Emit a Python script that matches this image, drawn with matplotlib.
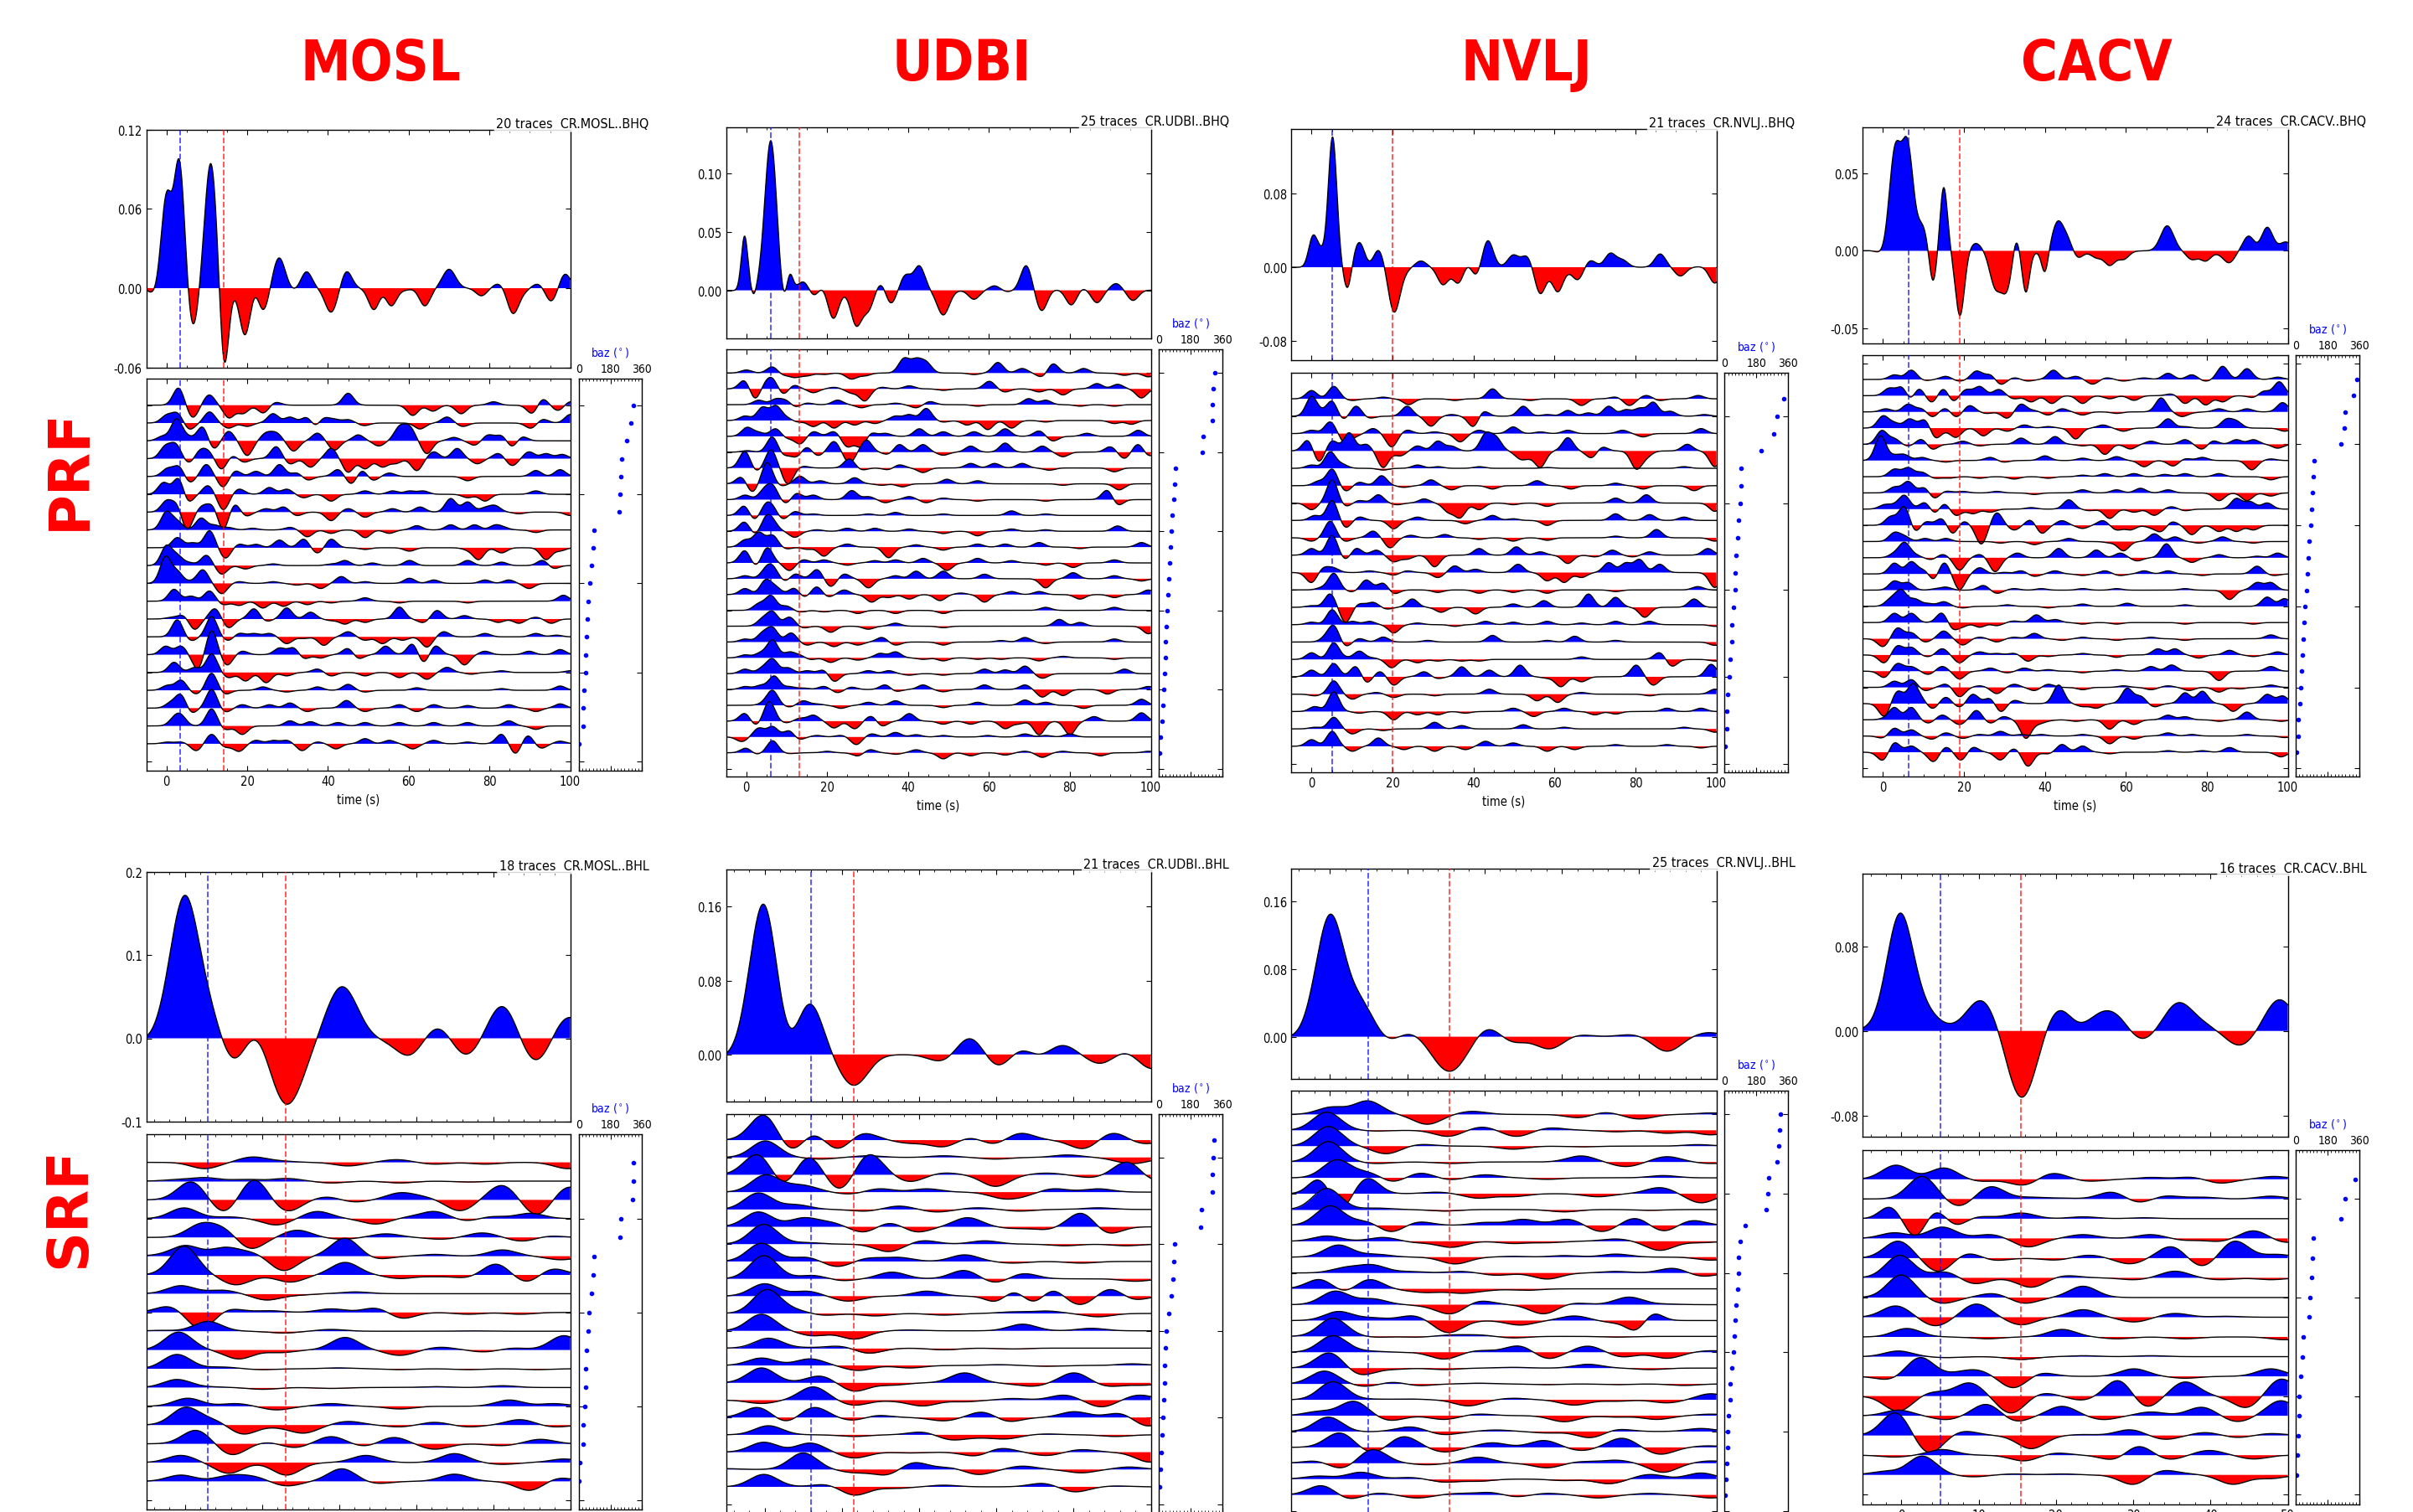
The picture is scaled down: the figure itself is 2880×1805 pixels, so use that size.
import numpy as np
import matplotlib
matplotlib.use("Agg")
import matplotlib.pyplot as plt
from matplotlib.ticker import (MultipleLocator, FixedLocator,
                               FormatStrFormatter, NullFormatter)

# Receiver-function overview: stack + individual traces + back-azimuth, per
# station (columns) and phase (rows).  Each waveform is given as a short list
# of (time s, amplitude[, width s]) pulses.

W, H, DPI = 2880, 1806, 100

STATIONS = ["MOSL", "UDBI", "NVLJ", "CACV"]
KINDS = ["PRF", "SRF"]
CHANNEL = {"PRF": "BHQ", "SRF": "BHL"}

# ---------------------------------------------------------------- PRF data
MOSL_PRF_STACK = [(-3, 0), (0.2, .078), (1.4, .073), (3.1, .103), (6.5, -.028), (11.0, .099, 1.5),
                  (14.3, -.058, 1.1), (17.1, -.010), (19.5, -.037), (22.0, -.007), (23.9, -.017),
                  (27.9, .024, 1.5), (31.5, .0), (34.7, .013), (40.8, -.019, 1.5), (44.6, .013),
                  (51.4, -.017), (53.9, -.007), (55.6, -.014), (59.0, -.002), (64.0, -.014),
                  (70.0, .015, 1.6), (78.0, -.006), (82.2, .003), (85.8, -.020), (88.0, -.008),
                  (92.0, .003), (95.3, -.010), (98.7, .011)]
UDBI_PRF_STACK = [(-3, 0), (-0.4, .0485, .8), (1.9, -.003, .6), (6.1, .134, 1.5), (9.2, .0), (10.7, .014, .8),
                  (12.6, .005), (14.4, .007), (16.8, -.004), (18.8, .0), (21.5, -.025), (24.2, -.006),
                  (27.2, -.032), (30.2, -.019), (33.5, .004), (35.6, -.011), (39.4, .014),
                  (42.8, .022), (48.7, -.022, 1.5), (56.3, -.008), (61.4, .004), (64.4, -.001),
                  (69.2, .022), (73.0, -.018), (76.6, .0), (80.4, -.013), (82.9, .0),
                  (86.7, -.011), (91.4, .006), (95.6, -.009), (99.4, .0)]
NVLJ_PRF_STACK = [(-3, 0), (0.2, .035, 1.0), (1.9, .026), (5.2, .148, 1.05), (8.9, -.023, .9), (11.8, .028),
                  (14.6, .007), (16.5, .019), (20.4, -.051, 1.4), (22.8, -.015), (27.0, .007),
                  (32.5, -.020), (34.6, -.013), (36.3, -.018), (38.8, .0), (40.5, -.008),
                  (43.5, .030), (49.8, .014), (53.2, .012), (56.5, -.030), (60.8, -.028),
                  (63.7, -.008), (65.8, -.014), (68.8, .007), (73.8, .016), (76.8, .009),
                  (81.0, .0), (86.1, .015), (91.1, -.010), (96.2, .0), (99.6, -.018)]
CACV_PRF_STACK = [(-3, 0), (-0.2, .003), (2.8, .070), (4.5, .072), (6.2, .074), (9.7, .018), (12.3, -.020, .9),
                  (15.0, .043, .9), (19.0, -.044, 1.1), (22.9, .005), (27.7, -.026), (30.5, -.028),
                  (32.8, .005, .8), (35.3, -.028, .9), (38.1, -.002), (40.0, -.014, .8),
                  (43.1, .020), (45.5, .011), (48.0, -.004), (52.7, -.005), (56.0, -.010),
                  (59.4, -.006), (64.5, .0), (70.2, .017, 1.6), (76.3, -.006), (79.7, -.007),
                  (83.5, -.004), (85.6, -.008), (90.3, .010), (94.9, .016), (97.5, .005), (99.6, .006)]

MOSL_PRF_TRACES = [
    [(3, 1.0), (6.5, -.7), (10.6, .6), (15.5, -.75), (19, -.5), (24, -.45), (27, .15), (45, .7), (61, -.6), (66, -.35), (73, -.5), (81, .2), (90.7, -.45), (93, .3), (97, -.3), (100, .2)],
    [(0, .5), (2.7, .6), (5.7, -.35), (10.7, .65), (15.4, -.3), (20, -.2), (26.4, .55), (30.6, .35), (34.9, .3), (37, -.1), (38.7, .25), (41.6, .25), (45, .2), (49, -.15), (62.8, -.35), (69.5, .35), (73.4, -.2), (90.3, -.3), (93.2, .2), (100, .5)],
    [(-1, .3), (2.5, 1.3), (5.2, .4), (9, .8), (11.6, -.4), (15.4, .55), (20, -.86), (24.7, .5), (27.2, .5), (31.5, -.6), (37.4, .45), (41.6, -.55), (47.5, .35), (52.6, -.3), (57.7, .9), (60.2, .9), (64.5, -.75), (71.2, .2), (76.3, -.25), (79.7, .35), (83, .3), (85.6, -.3), (88, .2)],
    [(-0.3, .8), (2.3, .9), (5.7, -.2), (8.2, .5), (10.3, .5), (13.7, -.6), (16.2, .1), (19.2, -.2), (27.2, .7), (30.6, -.3), (35.7, -.5), (40.8, .6), (45, -.8), (49.2, -.6), (53.5, -.5), (56.8, -.3), (62, -.7), (66.2, .4), (72, .6), (77, -.3), (82.2, .3), (85.6, -.4), (89.8, .4), (94, .3), (98, .25)],
    [(0.2, .5), (3.1, .6), (5.7, -.3), (9.9, .7), (14.1, -.6), (17, .3), (22.2, .3), (28, .7), (32.3, .2), (35, -.2), (42.5, .4), (45.9, -.4), (48.4, .3), (51, -.2), (55.2, .2), (74.6, -.25), (91.5, .35), (97.5, .4)],
    [(-0.7, .7), (3.1, .9), (5.2, -.3), (10.3, .5), (14.1, -.9), (18, .3), (25.5, .4), (29.8, .3), (34, -.2), (40.8, -.4), (49.2, .2), (56, .2), (60.2, .2), (63.6, .2), (74.6, -.2), (78.9, -.4), (91.5, .2)],
    [(0, .7), (2.7, .4), (5, -1.0), (9, .4), (11.6, .3), (14, -1.0), (16.9, .4), (19.6, -.2), (24.7, .2), (29, .3), (32.3, -.2), (40.8, -.5), (45, .2), (49.2, -.3), (56, .2), (62.8, .3), (70.4, .8), (74.6, .6), (78.9, .3), (81.4, .4), (87.3, -.1), (100, -.2)],
    [(0, 1.1), (2.7, .6), (8.6, .7), (12, .3), (15.4, .15), (21.3, .1), (30.6, .15), (34.9, -.4), (40.8, -.2), (49.2, -.45), (55.2, -.2), (62, .25), (70.4, .3), (76.3, .3), (81.4, .3), (83.5, .2), (91.5, -.15)],
    [(2.7, .6), (6.5, .3), (10.7, 1.0), (14.6, -.6), (18, .2), (22.2, .2), (28, .45), (34, .5), (37.4, -.3), (40.8, .5), (49.2, -.1), (60.2, -.2), (74.6, -.2), (77.3, -.7), (83, -.3), (94, -.7), (97.5, -.2)],
    [(0, 1.2), (2.7, .7), (5.7, .2), (9.9, .6), (13.7, -.5), (19.6, -.2), (26.4, .1), (40.8, .1), (44.2, .3), (51, .15), (60.2, .3), (74.6, .3), (83, .2), (93.2, .3), (95.8, -.15)],
    [(-0.2, 1.6), (2.7, .8), (6.1, .2), (9, .8), (13.7, -.6), (18, .1), (26.4, .1), (32.3, -.1), (38.2, -.3), (43.3, .4), (49.2, .1), (60.2, .3), (66.2, .2), (78.9, .2), (84.8, .2), (89.8, -.3)],
    [(1.9, .7), (6.1, .3), (10.7, .6), (14.1, -.2), (18, -.25), (23.9, -.4), (29, -.3), (34.9, -.2), (40.8, -.1), (49.2, .2), (57.7, -.1), (74.6, -.1), (98.3, .35)],
    [(1, .1), (4, .2), (7, -.6), (12, .6), (15.4, -.5), (21.7, .6), (24.7, -.1), (29.8, .65), (35.7, .4), (40.8, -.1), (44.2, -.3), (49.2, -.2), (57.7, .7), (63.6, -.2), (67, .5), (73.8, .2), (82.2, -.2), (87.3, -.25), (91.5, .1), (95.3, -.25)],
    [(2.7, 1.0), (6.1, -.2), (11.2, 1.2), (15.4, -.2), (18, .2), (21.7, .2), (25.5, .2), (29.8, -.4), (34, -.1), (39, -.5), (45, .3), (49.2, -.2), (53.5, -.4), (58.5, -.2), (64.5, -.6), (68.7, .3), (78.9, .2), (91.5, .2), (96.6, .1)],
    [(-0.2, .5), (3.6, .5), (7.8, -.8), (11.2, 1.4), (15, -.6), (18.8, .2), (28, .4), (31.5, .4), (34, -.2), (38.2, -.2), (45, .35), (47.5, -.2), (54.3, .5), (61, .6), (63.6, -.4), (66.6, .5), (73.8, -.6), (78.9, .2), (89.8, .2), (97.5, .3)],
    [(1.9, .6), (7, .3), (11.2, 1.1), (15.4, -.3), (19.6, -.5), (24.7, -.6), (29.8, -.2), (37.4, .2), (40.8, -.2), (49.2, -.2), (57.7, -.3), (64.5, -.4), (69.5, .3), (75.5, -.1), (83, .1), (100, .1)],
    [(0.2, .3), (3.6, .6), (7.4, -.2), (11.2, 1.0), (14.6, -.2), (23.9, .2), (29.8, -.1), (37.4, .2), (45, .35), (49.2, -.1), (62, .15), (83, .1), (97.5, .25)],
    [(1, .4), (3.6, .8), (6.1, -.2), (11.2, 1.1), (14.6, -.2), (18.8, .2), (25.5, .2), (30.6, .3), (34.9, -.2), (44.6, .45), (49.2, -.2), (57.7, .2), (62, -.2), (66.2, .2), (74.6, .15), (84.8, .2), (91.5, -.2), (97.5, .25)],
    [(1.9, .6), (3.6, .7), (11.2, 1.0), (14.6, -.2), (18.8, -.5), (30.6, .3), (35.7, .25), (42.5, .2), (49.2, .2), (57.7, .2), (66.2, .2), (74.6, .2), (84.8, .3), (91.5, -.2)],
    [(0.2, .1), (3.6, .1), (7.4, -.4), (11.2, .55), (14.6, -.2), (18, -.45), (22.2, .2), (26.4, .2), (29.8, .2), (33.6, -.4), (37.4, .1), (42, -.3), (49.2, .3), (55.2, .2), (61, -.3), (66.2, .2), (74.6, .1), (83, .55), (86.5, -.55), (89.4, .45), (92.8, -.25), (97.5, .15)],
]
UDBI_PRF_TRACES = [
    [(0, .2), (6.5, .4), (9, -.1), (12, -.3), (15, -.2), (19.2, -.1), (26, -.4), (29.3, -.2), (39, 1.0), (42, 1.0), (44.5, .8), (56.3, -.1), (62.2, .7), (68.2, .3), (73.2, -.2), (75.8, .6), (83.4, .3), (93.5, -.15), (99.4, -.25)],
    [(-0.3, .5), (2.1, -.6), (4.8, .5), (6.5, .7), (9.2, -.3), (11.6, .2), (16.6, -.25), (21.7, .1), (26, -.3), (29.3, -.8), (33.5, .1), (40.3, .2), (48.7, -.1), (60.1, .5), (63.9, -.2), (72.4, -.2), (78.3, -.4), (86.7, .35), (91.8, .3), (97.7, -.6)],
    [(3.1, .3), (7.3, .4), (9.9, .3), (12, -.1), (15, .1), (22.6, .3), (28.5, -.2), (36.9, .1), (42, -.2), (45.4, .2), (57.2, -.1), (69.8, .4), (74, .3), (82.5, -.1), (91, -.1)],
    [(-0.3, .3), (4, .9), (7.3, 1.0), (9.9, .3), (12.8, -.1), (16.6, -.4), (21.7, -.5), (26.8, -.3), (31.8, -.2), (36.9, .3), (40.3, .4), (44.5, .8), (48.7, -.1), (54.6, -.3), (59.7, -.6), (65.6, -.5), (74, -.1), (91, -.2), (95.2, -.25)],
    [(0.2, .6), (3.1, .3), (7.3, .5), (9.9, -.1), (13.3, -.5), (16.6, .3), (21.7, .3), (25, -.7), (28.5, -.7), (30.5, .1), (34.4, .2), (42.8, .5), (48.7, .3), (56.3, .3), (64, .5), (72.4, .35), (75.8, -.3), (84.2, .2), (96.9, .4)],
    [(0.2, .1), (6.5, 1.0), (9, -.1), (12.4, -.3), (15, .3), (17.5, -.2), (21.7, .7), (25.5, -.7), (29.7, .8), (35.2, -.1), (37.8, .5), (43.7, .5), (48.7, -.2), (55.5, .4), (64, .6), (73.2, .4), (78.3, -.3), (90, .35), (93.5, -.4), (96.9, .5), (99.4, -.2)],
    [(-0.3, 1.1), (2.3, -.1), (6.1, 1.2), (10.3, -1.05), (14.1, .1), (25.5, .6), (28.5, -.1), (35.2, -.1), (37.8, .2), (43.7, -.3), (55.5, .3), (61.4, .3), (68.2, .3), (74.9, -.15), (91, -.25)],
    [(-1.1, .4), (1.4, -.5), (5.2, 1.4), (8.6, -.1), (13.3, .5), (18.3, .2), (26.8, .4), (33.5, -.1), (38.6, -.2), (49.6, .3), (57.2, .2), (78.3, -.1), (92.2, -.4)],
    [(-0.3, .3), (4.4, .8), (6.5, 1.0), (9.9, -.2), (12.4, .4), (16.6, .3), (26.1, .6), (30.2, .2), (34.4, -.2), (40.3, .2), (44.5, -.2), (48.7, .1), (57.2, -.1), (74, -.1), (89.3, .6), (91.8, -.3)],
    [(-0.4, .6), (1.9, -.2), (4.8, .8), (6.5, .7), (9, -.2), (12, .25), (16.6, .1), (30.2, .1), (36.9, .2), (48.7, .1), (65.6, .3), (74, .1)],
    [(-0.4, .6), (2.3, -.1), (4.8, 1.0), (6.5, .9), (12, -.4), (17.5, .1), (25, .2), (31.8, .2), (40.3, .15), (48.7, -.15), (57.2, -.3), (65.6, .15), (74, .1), (91.8, .35)],
    [(-0.3, .5), (3.1, 1.0), (6.5, .8), (9.9, -.1), (15, -.15), (19.2, -.6), (25, .2), (35.2, -.7), (42, .15), (48.7, -.2), (57.2, .2), (64, .2), (72.4, .3), (82.5, -.1), (97.7, .3)],
    [(-0.3, .8), (2.3, -.1), (5.2, 1.0), (10.7, -.5), (14.1, .2), (19.2, .2), (25, -.15), (31.8, .15), (36.9, .2), (43.7, .3), (49.6, -.5), (57.2, .3), (65.6, .15), (74, -.15), (80.8, -.3), (91, .2)],
    [(-0.3, .2), (4.8, .8), (6.5, .9), (9.9, -.1), (12, .3), (17.5, .6), (20.9, -.5), (24.2, .3), (30.2, -.6), (36.9, .2), (42, .5), (48.7, .5), (58.9, .3), (74, -.6), (80.8, .4), (91, .2), (97.7, -.15)],
    [(-0.3, .4), (4.8, 1.0), (7.3, .6), (12, .4), (14.1, -.1), (17.5, .5), (20, -.1), (24.2, .3), (31, -.5), (35.2, -.2), (40.3, -.3), (47.9, -.4), (53, .1), (58.9, -.5), (65.6, .2), (72.4, .2), (82.5, -.3), (91, -.2), (99.4, .3)],
    [(3.1, .5), (6.1, 1.0), (9.9, .3), (13.3, -.1), (19.2, -.1), (27.6, -.2), (36.9, -.2), (48.7, -.2), (74, .2), (91, .2)],
    [(4, .6), (6.5, 1.0), (10.7, .6), (14.1, -.1), (20.9, -.4), (30.2, -.2), (36.9, .2), (48.7, -.1), (77.4, .45), (82.5, .25), (99.4, -.5)],
    [(-0.3, .2), (4, .7), (6.5, 1.0), (11.1, .6), (15, -.2), (21.7, -.3), (27.6, -.2), (33.5, .3), (36.9, -.2), (48.7, -.2), (63, .1), (68.9, .3), (74, -.1), (91, .2)],
    [(-0.3, .2), (3.5, .4), (6.5, 1.2), (10.7, .4), (13.3, .2), (15.8, -.1), (20.9, -.3), (27.6, -.15), (33.1, .3), (36.9, .4), (43.7, -.1), (48.7, -.2), (57.2, -.1), (63, -.1), (72.4, -.2), (78.3, .1), (91, -.1)],
    [(-0.3, .3), (4, .5), (6.5, 1.0), (10.3, .4), (15, .2), (19.2, .2), (21.7, -.5), (30.2, .2), (35.2, .2), (40.3, -.1), (48.7, -.1), (58.9, .3), (64, .25), (68.9, .5), (73.2, -.3), (93.5, .3)],
    [(-0.3, .2), (3.5, .3), (6.9, .9), (10.7, .2), (14.1, .1), (19.2, .2), (22.6, -.2), (26, .15), (34.4, .3), (36.9, -.1), (43.7, .3), (48.7, -.15), (58.9, .3), (68.9, .3), (73.2, -.5), (78.3, -.4), (89.3, -.3), (99.4, .2)],
    [(4.4, .4), (6.5, 1.0), (10.7, -.1), (14.1, .3), (17.5, .1), (23.4, -.2), (30.2, .2), (36.9, .3), (48.7, -.15), (57.2, .2), (68.9, .35), (74, .2), (83.4, -.2), (97.7, .4)],
    [(-0.3, .5), (2.3, -.2), (5.7, 1.3), (9.9, -.1), (13.3, .2), (16.6, .4), (21.7, -.45), (26.8, -.5), (31, .3), (33.5, -.3), (40.3, .5), (48.7, -.2), (55.5, -.2), (64, -.5), (67.3, -.2), (72.4, -.9), (80, -.9), (86, .3), (97.7, .55)],
    [(-1.1, -.3), (3.1, .6), (6.5, .7), (10.7, .4), (12.8, -.1), (17.5, .1), (23.4, .1), (27.2, -.5), (31, .2), (36.9, .3), (42, .15), (48.7, .1), (59.7, .1), (68.9, .2), (74, .1), (80, .2)],
    [(0, .3), (2.3, -.05), (6.5, .8), (10.7, -.05), (20, .1), (27.6, -.2), (30.6, .2), (36.9, -.1), (42, .2), (48.7, -.4), (55.5, -.2), (64, -.15), (68.9, .1), (73.2, -.3), (78.3, .1), (87.6, -.2), (99.4, .1)],
]
NVLJ_PRF_TRACES = [
    [(0, .5), (5.5, .75), (10.1, -.1), (17.7, .1), (24, -.35), (35.4, -.1), (44.7, .6), (54, -.1), (66.7, -.4), (75.1, .1), (78.5, -.4), (82.7, .2), (86, -.1), (95.5, .2)],
    [(0, 1.2), (2.5, .5), (5.1, .9), (7.6, -.1), (11, .6), (14.3, -.1), (23.6, .6), (29.5, -.6), (34.6, .1), (40.1, -.6), (42.2, .2), (52.3, .6), (58.2, .1), (63.3, .35), (68.4, .2), (73.4, .6), (77.6, .4), (81, .5), (84.4, .85), (88.6, .3), (97, .1)],
    [(0, .2), (4.6, .7), (8.4, -.6), (11, -.2), (15.2, .3), (19.8, -.8), (23.6, .2), (30.4, .1), (36.7, -.5), (41.4, .2), (49.8, .4), (56.5, .1), (63.3, .2), (76.8, .2), (81.9, -.2), (96.2, .3)],
    [(-0.8, .6), (1.7, -.6), (5.1, .6), (9.3, 1.1), (13.5, .4), (17.7, -1.0), (21.9, -.3), (26.2, .3), (31.2, .6), (34.6, .3), (43, 1.1), (45.6, .9), (51.5, -.5), (53.6, -.5), (56.5, -1.0), (63.3, .8), (69.2, -.4), (71.7, .2), (80.2, -1.1), (82.7, -.5), (92.8, .4), (99.6, -.95)],
    [(0, .2), (4.6, 1.0), (7.6, .3), (17.7, -.1), (26.2, .2), (31.2, .1), (41.4, .1), (58.2, .05), (92, .1)],
    [(1.7, .3), (5.1, 1.0), (8.4, -.3), (11.8, .2), (17.3, .6), (22.8, -.1), (29.5, .35), (34.6, -.25), (44.7, -.2), (55.7, .3), (64.1, -.2), (75.1, .15), (81.9, -.2), (94.5, -.3)],
    [(0, -.4), (5.1, 1.4), (8.4, -.15), (11.8, .15), (16.5, .5), (21.1, -.1), (27.8, .25), (33.8, -.6), (36.7, -.9), (41.4, -.4), (49.8, -.1), (58.2, -.2), (75.1, .3), (82.7, .5), (99.6, -.5)],
    [(0.8, .3), (5.1, 1.2), (8.4, -.4), (11.8, .2), (20.3, -.5), (26.2, .2), (38, -.2), (44.7, .3), (49.8, .1), (58.2, -.3), (75.1, .4), (83.5, .35), (92, .2)],
    [(0, -.2), (4.6, 1.0), (8.4, -.2), (15.2, .4), (19.4, -.6), (24.5, .15), (32.9, .2), (41.4, -.1), (49.8, -.2), (58.2, -.15), (75.1, .1), (85.2, .5), (99.6, -.2)],
    [(0, .4), (5.1, 1.2), (8.4, -.2), (11, .4), (16, .3), (20.3, -.4), (23.6, -.25), (30.4, -.7), (41.4, .4), (50.6, .5), (56.5, .2), (63.3, -.5), (70, -.1), (74.3, .3), (79.3, -.1), (83.5, .2), (97.9, .4)],
    [(0, -.6), (3, .3), (5.5, .3), (14.3, .1), (20.3, -.15), (23.6, .1), (31.2, -.3), (35.4, .4), (40.5, .2), (51, .5), (58.2, -.5), (62.4, -.6), (66.7, -.3), (73.4, .6), (77.6, .6), (81, .8), (86, .5), (99.6, -.9)],
    [(2.5, .2), (5.5, 1.0), (10.1, -.1), (13.5, .6), (17.7, .4), (20.3, -.2), (31.2, -.15), (41.4, -.2), (49.8, -.15), (58.2, -.2), (75.1, -.1), (95.4, .2)],
    [(0, .1), (4.6, .8), (8.4, -.9), (11.8, .2), (15.2, .3), (18.6, -.1), (24.9, .5), (32, -.3), (40.5, -.4), (49.8, .2), (57.4, .4), (68.4, .8), (75.1, .6), (82.3, -.6), (94.5, .5)],
    [(0, .15), (5.1, .9), (10.1, .2), (14.3, .2), (20.3, -.5), (26.2, .1), (35.4, -.1), (43, .2), (49.8, .15), (58.2, .2), (66.7, .1), (75.1, .2), (83.5, .2), (99.6, -.1)],
    [(3.4, .5), (5.5, 1.0), (8.4, -.2), (11.8, .2), (17.7, .3), (28.7, .1), (44.7, .4), (58.2, .1), (65, .35), (75.1, .1), (99.6, -.2)],
    [(0, .4), (5.5, 1.0), (8.4, .2), (11.8, .5), (15.2, .1), (19.8, -.5), (26.2, -.2), (31.2, -.1), (37.1, -.1), (41.4, -.1), (66.7, .15), (86, .4), (89, -.4), (99.6, -.1)],
    [(0, .4), (5.5, .8), (11, .6), (13.5, -.3), (16.9, .3), (20.3, -.5), (27.8, .3), (31.2, -.1), (37.1, .6), (43.9, .4), (51.5, .7), (58.2, -.1), (61.6, -.6), (66.7, -.3), (80.2, .7), (84.4, -.5), (98.7, .75)],
    [(0.8, -.1), (5.5, .8), (10.1, -.3), (16, .1), (20.3, -.2), (30.4, -.1), (43.9, .3), (55.7, -.4), (60.8, -.5), (66.7, .1), (83.5, -.1), (99.6, .3)],
    [(0.8, .3), (5.5, 1.2), (11.8, -.1), (20.3, -.5), (26.2, -.2), (31.2, -.2), (38, -.1), (49.8, .2), (54.9, -.3), (62.4, .2), (70, -.2), (75.1, -.15), (87.8, .2), (96.2, .2)],
    [(0.8, .1), (5.5, .7), (10.1, -.3), (17.7, -.1), (30.4, .4), (37.1, .2), (52.3, .25), (62.4, .1), (92, .1), (99.6, -.2)],
    [(0, .4), (5.1, .9), (10.1, -.3), (16.5, .5), (22.8, -.2), (30.4, -.3), (38, -.2), (43, .3), (49.8, .2), (58.2, -.3), (65, -.2), (75.1, .1), (87.8, .1), (96.2, -.1)],
]
CACV_PRF_TRACES = [
    [(2.8, .3), (7, .6), (10.4, -.05), (15.5, .2), (18.9, -.1), (23.1, .55), (26.5, .3), (29, -.3), (32.4, .1), (35.8, -.1), (42.1, .6), (47.6, .2), (51.8, -.3), (55.2, .1), (59.4, -.1), (64.5, .1), (70.4, .4), (76.3, .3), (79.7, -.1), (83.9, .85), (89.9, .7), (97.5, .15)],
    [(1.5, .5), (4.9, .5), (6.6, -.1), (8.7, .4), (12.1, -.4), (15, .4), (17.2, -.3), (20.5, .4), (23.9, .6), (28.6, .4), (32.4, -.2), (36.6, -.4), (41.7, -.5), (49.3, -.5), (56, -.2), (62, -.3), (71.3, .1), (74.6, -.5), (79.7, -.6), (83.9, -.4), (91.5, -.1), (94.1, .3), (97.9, .9)],
    [(0.7, .2), (6.2, .5), (9.6, .2), (12.1, -.3), (15.5, .2), (18, -.3), (21.4, .4), (25.6, -.1), (30.7, -.4), (34.1, .5), (37.4, .1), (40.8, -.2), (44.2, .2), (49.3, -.2), (57.7, -.1), (68.7, .9), (73.8, -.3), (76.3, -.1), (83, .2), (89.9, .2), (98.7, .6)],
    [(0, .8), (2.8, .4), (6.6, .6), (10.4, .5), (12.9, -.6), (15.5, -.3), (18, -.6), (24.8, -.5), (30.7, -.2), (34.9, .2), (40.8, .1), (47.6, -.7), (54.3, .2), (59.4, -.2), (70.4, .6), (74.6, .1), (84.8, .6), (87.3, .5), (99.2, -.2)],
    [(-0.3, .9), (2.8, .4), (6.2, -.1), (9.6, .3), (12.1, -.3), (19.7, .2), (23.9, -.1), (34.1, .4), (42.5, .5), (49.3, -.1), (54.8, -.65), (61.1, -.3), (66.2, .2), (74.6, .3), (78.9, -.3), (81.4, .2), (87.3, .3), (91.5, .3), (97.5, -.25)],
    [(-0.6, 1.6), (2.8, .4), (5.3, .4), (9.6, .2), (15.5, -.1), (26.5, .2), (29.8, -.1), (40, .3), (49.3, .15), (57.7, .25), (64.5, -.4), (71.7, -.35), (74.6, .1), (78.9, .2), (91.1, -.6), (95.8, .1)],
    [(2.8, .5), (6.2, .6), (9.6, .3), (12.9, -.1), (16.3, -.1), (23.9, -.1), (32.4, -.15), (40.8, -.1), (49.3, .1), (54.8, .2), (62, .2), (69.6, .15), (74.6, .2), (83, .2), (95.8, -.2)],
    [(2.8, .4), (6.2, .75), (10.4, .3), (12.5, -.3), (15.5, .1), (19.7, .1), (28.1, .1), (37.4, -.1), (49.3, .2), (57.7, .2), (63.6, .3), (70.4, .2), (83, -.5), (89.9, -.5), (95.8, -.2)],
    [(0.3, .3), (2.8, .4), (5.3, .9), (10.4, .4), (12.9, -.2), (15, .3), (18, -.4), (22.2, -.3), (26.5, -.2), (36.6, .1), (45.9, .6), (51, -.1), (56, -.6), (62, -.2), (67, -.4), (71.3, .15), (74.6, -.1), (87.3, .7), (90.7, .5), (94.9, .4)],
    [(1.9, .6), (5.3, 1.2), (7.9, -.3), (10.4, .2), (14.6, .4), (17.2, -.5), (19.7, .2), (24.3, -1.2), (28.1, .8), (32.4, -.3), (36.6, .3), (39.1, -.5), (44.2, .3), (49.3, -.2), (54.3, .3), (57.7, -.3), (61.1, -.3), (66.2, -.2), (68.7, -.4), (71.3, .2), (76.3, -.6), (83, -.4), (87.3, -.4), (91.5, -.3)],
    [(2.8, .6), (5.3, .4), (10.4, .2), (15.5, .2), (29, -.1), (37.4, -.2), (45.9, .2), (56, -.1), (59.4, -.6), (67, .5), (72.1, .3), (78, -.1), (83.9, .3), (91.5, -.1)],
    [(2.8, .4), (5.3, 1.0), (7.9, .3), (12.1, -.1), (14.6, .2), (18.9, -.8), (23.9, .2), (27.7, -.9), (33.2, .3), (43.4, .6), (52.7, .5), (58.6, .3), (62.8, -.2), (70, .9), (76.3, -.3), (83, .2), (92.4, .1), (97.5, .3)],
    [(2.8, .7), (7, .8), (10.4, .2), (12.5, -.3), (15, .7), (18.9, -1.0), (23.9, .4), (29.8, .1), (34.1, .2), (37.4, -.15), (42.5, .2), (49.3, -.1), (54.8, .2), (58.6, -.1), (64.5, .2), (70.4, .2), (78.9, -.1), (92.4, .5), (96.6, -.1)],
    [(2.8, .6), (6.2, .5), (12.9, .1), (15.5, .2), (24.8, .3), (28.1, -.2), (32.4, .1), (39.1, .1), (49.3, .1), (57.7, .1), (74.6, .1), (85.6, -.6), (92.4, .5), (95.8, .5)],
    [(1.9, .6), (4.5, 1.1), (7.9, .5), (11.2, .2), (15, .3), (19.7, -.1), (30.7, .1), (40.8, -.1), (49.3, .15), (60.3, .2), (74.6, .1), (94.9, .6), (99.2, .5)],
    [(2.8, .6), (7, .6), (14.6, .6), (17.2, -.4), (19.7, -.3), (23.9, -.3), (28.1, -.2), (32.4, .1), (37.9, .5), (42.5, .2), (49.3, -.1), (57.7, -.1), (74.6, -.1), (91.5, -.1)],
    [(0, -.5), (3.6, .7), (7, .4), (10.4, -.2), (15, .5), (19.7, -.4), (23.9, .1), (28.1, -.2), (32.4, .1), (37.4, .35), (44.2, -.1), (49.3, .1), (57.7, -.1), (66.2, .1), (74.6, -.1), (95.8, .25)],
    [(0.3, -.5), (3.6, .6), (7, .5), (11.2, -.1), (14.6, .4), (18.9, -.5), (23.9, .2), (28.1, .1), (32.4, .1), (35.8, -.4), (40.8, -.1), (49.3, .1), (57.7, -.15), (67.9, .4), (72.1, .4), (78, -.2), (85.6, .3), (91.5, -.1), (97.5, .2)],
    [(0.3, -.4), (3.6, .5), (7, .3), (11.2, -.2), (14.6, .3), (18.9, -.5), (26.5, .2), (30.7, -.1), (34.9, .2), (40.8, .1), (49.3, -.1), (57.7, .1), (66.2, .3), (71.3, .4), (83, -.6), (95.8, .3)],
    [(2.8, .4), (7, .5), (10.4, -.2), (15.5, .2), (18.9, -.6), (23.9, .1), (28.1, -.4), (32.4, .2), (37.4, -.2), (40.8, .2), (49.3, -.15), (59.4, .1), (66.2, -.15), (70.4, .1), (75.6, -.2), (83, -.3), (88.2, -.1), (95.8, .15)],
    [(0.3, -.8), (3.6, .8), (7.4, 1.3), (10, .3), (12.1, -.3), (15.5, .4), (18.9, -.2), (22.2, .6), (26.5, .3), (29, -.5), (32.4, .2), (43.4, 1.2), (49.3, -.2), (52.7, -.3), (60.3, 1.0), (63.6, .5), (67, -.2), (74.6, .7), (78.9, .8), (86.5, -.5), (94.9, .6), (98.7, .5)],
    [(0.3, .2), (2.8, .8), (7, .8), (11.2, -.2), (14.6, .3), (18.9, -.3), (23.1, .6), (26.5, -.2), (29.8, .2), (35.3, -1.2), (38.5, -.3), (40.8, -.1), (47.6, -.1), (56, -.6), (62, -.3), (70.4, .3), (74.6, .2), (83, -.1), (89.9, .5), (98.3, -.1)],
    [(0, -.1), (2.8, .5), (7, .4), (12.1, -.2), (15.5, .2), (19.7, -.15), (23.9, .1), (29, .3), (34.1, .1), (39.1, .1), (49.3, .1), (56, -.5), (62, -.2), (70.4, .2), (76.3, .1), (89.9, .1), (99.2, -.1)],
    [(0, -.5), (2.8, .6), (7, .4), (12.5, -.6), (15.5, .3), (19.3, -.5), (22.2, .3), (29, -.5), (32.4, .2), (35.8, -.9), (40.8, -.1), (44.2, .5), (49.3, .4), (56, -.1), (70.4, .1), (78.9, .1), (85.6, .3), (98.3, -.3)],
]

# ---------------------------------------------------------------- SRF data
MOSL_SRF_STACK = [(-5, .002), (0, .18, 1.9), (3.5, .045, 1.5), (6.7, -.025), (8.9, -.001),
                  (13.2, -.083, 2.2), (20.4, .065, 2.0), (25.2, 0), (29.2, -.021), (32.8, .012),
                  (36.4, -.020), (41.2, .040), (45.5, -.027), (49.7, .026)]
UDBI_SRF_STACK = [(-5, .001), (-0.1, .171, 1.8), (3.2, .029), (5.6, .057), (8.8, 0), (11.6, -.035),
                  (16.5, -.001), (23.2, -.006), (26.6, .018), (30.3, -.012), (33.2, .004), (35.4, 0),
                  (38.3, .010), (43.6, -.010), (46.8, .001), (50, -.016)]
NVLJ_SRF_STACK = [(-4.9, .002), (0, .152, 1.8), (4, .05), (7.7, -.002), (10, .003),
                  (15.5, -.043, 2.2), (20.6, .009), (23.2, -.005), (28.5, -.015), (31.6, 0),
                  (39.2, .002), (43.6, -.018), (48.9, .005)]
CACV_SRF_STACK = [(-5, .003), (-0.2, .117, 1.7), (3.1, .033), (7.3, .010), (10.2, .030), (12.5, 0),
                  (15.5, -.066, 1.9), (18.8, 0), (20.3, .020), (23, .008), (25.2, .016),
                  (27.9, .016), (30.8, -.007), (35.8, .028), (38.9, .011), (43.8, -.014), (48.9, .031)]

MOSL_SRF_TRACES = [
    [(2.6, -.35), (8.8, .3), (12.4, .1), (21.2, -.2), (27.5, .15), (32.4, -.1), (39, -.1), (49.7, -.35)],
    [(-1, .1), (2.6, .2), (7.9, .1), (13.2, .15), (19, -.1), (27.9, -.1), (36.8, -.05)],
    [(0.9, 1.0), (5.2, -.6), (8.9, 1.1), (13.2, -.6), (18.6, .15), (21.7, -.1), (27.9, .4), (31, .2), (35.7, -.6), (41.2, .8), (45.7, -.8), (49.7, .7)],
    [(-0.1, .6), (5.7, .1), (11.9, -.35), (17.2, .4), (24.8, -.3), (28.8, .1), (32.4, .4), (36.8, -.1), (39.5, .1), (44.8, .3)],
    [(2.1, .8), (5.2, .5), (8.4, -.6), (14.6, .4), (20.4, -.1), (26.1, .2), (33.2, -.1), (38.6, .25), (43.9, -.2), (47, .05)],
    [(-3.2, .15), (0.1, .6), (5.2, .5), (8.8, .2), (12.8, -.8), (20.8, 1.0), (24.8, -.1), (32.4, .1), (41.2, .35), (48.8, -.2)],
    [(-0.1, 1.6), (6.6, -.55), (9.5, -.2), (13.7, -.4), (20.8, .7), (27.9, -.2), (32.4, -.1), (36.8, -.1), (40.4, .6), (44.4, -.35), (47.5, .3)],
    [(-0.5, .45), (4.8, .2), (10.6, -.35), (14.6, -.1), (22.1, .1)],
    [(-1.9, .3), (2.1, -.9), (5.5, .1), (11, .1), (19, .2), (25.2, .2), (27.9, -.3), (36.8, -.1), (43.5, -.1)],
    [(-3.2, .05), (3, .55), (12.8, -.1), (19, .1), (36.8, .02)],
    [(-0.8, 1.0), (7, -.5), (12.4, -.15), (20.8, .7), (27.9, -.3), (33.2, .15), (39, -.1), (42.6, .1), (49.2, .8)],
    [(-1, .8), (4.8, .1), (10.1, -.05), (19.9, .05), (27.9, -.05), (36.8, -.05), (45.7, -.05)],
    [(-1, .45), (3.5, .05), (10.1, -.1), (19, -.05), (32.4, .05), (41.2, .1)],
    [(0.4, .45), (6.6, .15), (11.9, -.2), (19, .15), (27.9, -.15), (42.1, .35), (47.9, .15)],
    [(0.1, 1.0), (3.9, .3), (7.5, -.5), (12.4, -.2), (15.5, -.45), (21.2, .2), (27.9, -.1), (32.4, .15), (36.8, -.1), (43.5, .3), (47.9, -.1)],
    [(1.5, .75), (6.1, -.6), (11, .05), (14.1, -.2), (19, .4), (23.5, -.1), (27, .35), (32.4, -.3), (41.2, -.1), (46.1, .25)],
    [(-0.5, .4), (5.7, -.6), (13.2, -.7), (23.5, .4), (35, .5), (41.2, -.1), (49.2, .2)],
    [(-0.5, .35), (5.7, .35), (8.8, .3), (13.2, -.25), (20.4, .7), (24.8, -.1), (35, .4), (44.8, -.5), (48.4, .15)],
]
UDBI_SRF_TRACES = [
    [(0, 1.5), (3.6, -.5), (6.1, .25), (9.4, -.5), (12.5, .35), (18.8, -.2), (23.2, -.4), (26.8, .1), (29.6, -.2), (33, .4), (41.4, -.5), (45, .4), (49, -.2)],
    [(0.1, 1.0), (7.2, -.1), (13.4, .1), (23.2, .1), (29.9, -.1), (39.2, .15), (46.8, -.35), (49, -.3)],
    [(-0.8, 1.2), (2.8, -.4), (5.4, 1.0), (9.9, -.8), (13.4, 1.2), (18.8, -.4), (23.2, .1), (29.9, -.7), (36.5, .1), (42.3, -.15), (47.2, .75), (49.9, -.2)],
    [(0.1, 1.05), (3.6, .5), (5.4, .4), (11.2, -.1), (14.8, .2), (21, .2), (30.8, -.4), (33.4, -.3), (37.4, .2), (43.2, .2)],
    [(-0.8, 1.0), (4.1, .3), (13, -.1), (17.4, .2), (22.3, -.15), (27.6, .1), (33, -.1), (43.2, .1)],
    [(-0.8, .9), (5, .55), (8.5, .3), (13, -.3), (16.1, .2), (19.6, -.3), (26.3, .55), (32.1, -.1), (36.5, -.15), (41.2, .8), (44.1, -.3)],
    [(-0.1, 1.2), (5.4, .1), (16.1, -.45), (20.5, .2), (28.5, .2), (38.8, -.1), (46.8, -.1)],
    [(-0.4, 1.1), (5.4, .25), (9.4, -.3), (13.4, .2), (17.4, .25), (25.9, .4), (32.1, -.1), (41, -.1)],
    [(-0.1, 1.4), (6.3, .2), (9.9, -.1), (16.5, .4), (25.9, .5), (29.9, -.2), (33.4, .3), (48, -.15)],
    [(0, .75), (5.4, .3), (10.8, -.3), (21, .3), (29.9, -.3, 1.3), (32.3, .2, 1.3), (34.8, -.3, 1.3), (37.4, .3, 1.3), (41, -.5), (45, .4), (47.2, -.1)],
    [(0.3, 1.45), (4.1, .3), (7.6, -.1), (14.3, -.15), (23.2, -.1), (32.1, .1), (36.5, .15), (43.2, -.2)],
    [(-0.4, 1.0), (6.3, -.3), (11.6, -.5), (18.8, .05), (33.4, .4), (42.3, .15)],
    [(0.5, .6), (5.4, .05), (9.9, .1), (13.4, -.3), (23.2, -.1), (32.1, -.05)],
    [(-0.4, .45), (5.9, .4), (12.1, -.3), (18.8, -.15), (30.3, .05), (36.5, -.05), (47.6, .1)],
    [(-0.4, .9), (7.2, .4), (11.6, -.5), (16.5, -.15), (25.9, .6), (32.1, -.1), (34.8, -.2), (40.1, .6), (44.5, -.2), (49, -.15)],
    [(-0.4, -.2), (6.3, .8), (11.6, -.3), (17, -.1), (20.5, -.35), (25.9, -.1), (32.1, .1), (38.8, .3), (43.6, -.4), (48.5, .3)],
    [(-0.8, .6), (2.8, -.2), (6.3, .6), (11.6, -.15), (14.3, .1), (23.2, -.2), (28.5, .3), (31.2, -.2), (40.1, .35), (46.3, .2), (49.4, -.5)],
    [(0.5, .55), (11.6, -.1), (20.5, .15), (24.1, -.3), (27.6, -.2), (31.2, -.25), (36.5, .05), (45.4, -.1)],
    [(-0.1, .6), (5.9, .55), (11.6, -.35), (18.8, -.05), (27.6, -.2), (30.3, .2), (36.5, -.2), (41, .15), (47.2, -.2), (49.9, -.6)],
    [(-5, .05), (5, 1.0), (11.6, -.2), (16, -.3), (19.2, .4), (24.1, .1), (27.6, -.3), (33.4, .2), (41, -.2), (47.2, .15)],
    [(-0.1, .75), (8.1, .1), (11.6, -.5), (17, -.1), (23.2, .1), (36.1, .2), (40.1, -.3), (45.4, .05)],
]
NVLJ_SRF_TRACES = [
    [(0.2, .5), (4.9, .9), (12.6, -.65), (18.4, .2), (32.5, -.2), (35.2, .1), (40, -.3), (49.3, .1)],
    [(-0.4, 1.2), (6, -.05), (15.3, -.4), (19.7, .2), (24.1, -.4), (28.5, .15), (37, -.1), (43.6, -.2), (49.3, -.3)],
    [(-0.2, 1.3), (7.3, -.5), (11.7, .1), (23.7, -.2), (32.5, -.05), (47.6, .1)],
    [(-0.2, 1.35), (6, -.1), (15.7, -.1), (32.5, .4), (38.3, -.3), (43.6, .35), (49.3, -.1)],
    [(0.9, 1.2), (5.5, .3), (7.7, -.2), (11.7, .3), (15.3, -.1), (20.1, .2), (28.1, -.1), (43.1, .15)],
    [(-1.5, .9, 1.3), (1.5, -.9, 1.2), (4.9, 1.0, 1.5), (13.9, .1), (19.2, -.3), (23.7, -.2), (34.7, -.2), (42.7, .4), (48, -.6)],
    [(-0.4, 1.4), (6, .1), (14.8, -.1), (30.3, -.15), (41.4, -.05)],
    [(0, 1.3), (5.1, .2), (7.7, -.4), (11.3, .2), (20.1, .2), (25, .4), (30.8, .4), (35.2, -.4), (39.6, .45), (43.1, -.35), (46.7, .3)],
    [(-0.4, .35), (6.9, .25), (11.3, -.1), (15.7, -.4), (23.7, -.15), (28.1, -.1), (37, .15), (42.7, -.6), (48, -.1)],
    [(1.1, .8), (6, .2), (16.2, -.45), (23.7, .05), (30.3, .1), (37, .2), (49.3, -.2)],
    [(2, .4), (5.5, .55), (10.4, .1), (17, .1), (21.5, -.15), (28.1, -.4), (37, .1), (44.5, .3), (48, -.2)],
    [(-1.1, .6), (1.8, -.1), (4.9, .6), (9.5, -.1), (12.6, -.25), (17, -.3), (20.1, -.15), (25.4, -.1)],
    [(0.7, .9), (5.5, .4), (12.6, -.2), (15.7, -.6), (19.2, .2), (27.7, -.6), (31.2, .05), (38.7, .5), (43.6, .05)],
    [(1.1, .6), (5.5, .2), (10.8, .3), (15.3, -.8), (24.6, -.3), (31.6, .3), (37, -.2), (39.6, -.6, 1.2), (41.8, .4, 1.2)],
    [(0.4, 1.2), (6, -.05), (11.3, -.05), (15.7, .1), (19.2, .1), (23.7, -.1), (37, -.05)],
    [(0.4, 1.1), (5.1, .1), (14.8, -.45), (19.2, .1), (24.6, .4), (28.1, -.4), (33.4, .4), (37.8, -.3), (43.6, -.4), (49.3, .1)],
    [(0, 1.0), (3.8, -.4), (8.2, -.1), (14.8, -.1), (23.7, .05), (33.4, .25), (41.4, -.1)],
    [(-0.7, .85), (4.6, -.15), (8.2, .1), (11.3, -.1), (19.2, .05), (28.1, -.05), (37, -.05), (45.8, -.1)],
    [(0.4, 1.2), (6, .05), (10.4, .05), (17.9, -.4), (23.7, .1), (31.6, -.35), (37, -.1), (43.6, -.2), (49.3, .4)],
    [(-1.5, .3), (3.1, .95), (7.7, -.3), (14.8, -.25), (19.2, .1), (30.3, -.4), (37, -.1), (42.3, -.25), (49.3, .1)],
    [(-0.2, .95), (3.3, .1), (10.4, .3), (14.8, -.2), (21.5, .1), (28.1, -.1), (33.8, -.4), (37, .1), (48, .2)],
    [(1.3, .95), (5.5, -.3), (9.5, .7), (14.8, -.3), (21, .3), (27.7, .45), (32.5, -.2), (37.8, .6), (42.7, -.45), (48.9, .1)],
    [(-1.5, .1), (1.5, -.3), (5.5, .9), (12.6, -.1), (19.2, .4), (28.1, -.3), (32.5, .1), (37, .2), (43.1, -.6), (49.3, .15)],
    [(-1.5, .2), (4, .45), (10.4, .1), (14.8, -.2), (19.2, -.15), (30.3, -.1), (36.1, -.3), (41.4, .3), (48, .4)],
    [(-0.9, .6), (2.2, -.2), (6, .1), (11.3, -.2), (16.6, .1), (21, .15), (23.7, -.1), (28.1, .1), (34.7, -.2), (41.4, .1), (49.3, -.2)],
]
CACV_SRF_TRACES = [
    [(-0.7, .75), (5.5, .6), (10.2, -.1), (15.9, -.3), (19.5, .3), (24.3, -.1), (32.3, .1), (37.6, .1), (41.2, -.2), (48.2, .15)],
    [(2.7, 1.2), (7.5, -.35), (11.5, .65), (16.8, .1), (20.8, .05), (27.4, .35), (30.5, -.15), (34.1, .15), (38.9, .1), (47.8, .15)],
    [(-1.5, .6, 1.3), (1.8, -.9, 1.3), (4.4, .3, 1.3), (7.1, -.3, 1.3), (10.2, .1), (15.5, .3), (23.5, .1), (31.4, .05)],
    [(-0.9, .3), (5.3, .6), (11.5, .2), (16.4, -.45), (23.5, .2), (32.3, .2), (36.7, -.1), (41.2, -.15), (45.6, .4), (49.6, -.2)],
    [(-0.4, .9), (4.9, -.7), (8.4, .2), (11.9, -.1), (19.9, -.1), (24.3, .15), (29.6, -.3), (35, .6), (38.9, -.4), (43.1, .9), (48.7, .2)],
    [(-0.2, 1.2), (5.8, .3), (9.3, -.3), (16.8, -.5), (21.2, .1), (30.1, -.1), (35.4, .35), (41.2, -.1), (47.8, -.1)],
    [(0, 1.2), (5.3, -.3), (11.9, .2), (15.9, -.3), (23.5, .6), (30, 0), (40, 0)],
    [(-0.7, .6), (4.4, -.45), (9.7, .7), (15.5, -.4), (23.5, .4), (30.1, -.25), (35.4, .2), (42, .05)],
    [(0.7, .45), (11.1, -.1), (20.8, .4), (27.9, -.1), (36.7, -.1), (49.6, -.15)],
    [(-0.4, .3), (5.8, -.05), (15.5, -.15), (23.5, .05), (32.3, .05)],
    [(-1.3, -.1), (2.4, 1.0), (8, .3), (10.2, .3), (14.6, -.6), (17.7, .1), (30.1, .4), (36.7, -.1), (47.8, .4)],
    [(-0.4, -.8), (4, .2), (8.8, .7), (14.2, -.9), (18.1, .1), (23.5, -.2), (28.3, .8), (31.4, -.5), (36.7, .75), (44.7, -.6), (49.1, .9)],
    [(-0.4, .3), (5.8, -.2), (11.1, .6), (14.6, -.25), (20.8, .5), (26.1, -.2), (32.3, .2), (38.9, .45), (43.4, -.3), (49.1, .8)],
    [(-0.7, 1.2), (3.5, -.9), (8, .2), (16.8, -.7), (23.5, .05), (29.6, .3), (34.1, -.2), (39.4, .15), (43.4, -.1), (47.8, .1)],
    [(-0.9, -.1), (5.3, .3), (15.9, -.3), (19.9, .1), (27.9, -.15), (30.5, .45), (34.5, -.2), (39.8, .25), (45.6, -.2)],
    [(-2.2, .2), (2.7, 1.0), (9.3, -.1), (14.6, .05), (20.8, .05), (30.1, -.5), (33.6, .2), (36.7, .1), (42.9, -.5), (47.8, -.2)],
]

# back azimuths (deg), top trace first
MOSL_PRF_BAZ = [313, 298, 272, 245, 240, 235, 230, 86, 82, 72, 64, 53, 49, 45, 41, 37, 31, 27, 23, 2]
UDBI_PRF_BAZ = [316, 308, 304, 300, 250, 247, 94, 91, 87, 77, 69, 64, 60, 56, 52, 48, 44, 40, 37, 33, 29, 25, 21, 8, 6]
NVLJ_PRF_BAZ = [335, 298, 279, 209, 95, 91, 87, 79, 74, 66, 62, 58, 50, 43, 39, 33, 25, 19, 14, 10, 2]
CACV_PRF_BAZ = [345, 327, 279, 275, 254, 102, 98, 94, 91, 83, 77, 69, 65, 62, 54, 48, 44, 40, 35, 29, 23, 13, 12, 6]
MOSL_SRF_BAZ = [313, 309, 304, 237, 235, 86, 82, 72, 60, 53, 45, 41, 37, 33, 27, 23, 4, 2]
UDBI_SRF_BAZ = [314, 308, 304, 301, 241, 237, 89, 85, 81, 69, 56, 42, 39, 35, 31, 27, 23, 19, 15, 8, 6]
NVLJ_SRF_BAZ = [315, 312, 308, 298, 248, 244, 236, 116, 87, 81, 79, 74, 66, 58, 54, 50, 39, 33, 29, 23, 19, 15, 12, 8, 4]
CACV_SRF_BAZ = [333, 279, 254, 98, 94, 89, 81, 77, 44, 39, 27, 21, 17, 13, 10, 6]

# marker times (blue, red) in s
PRF_VLINES = [(3.4, 14.1), (6.0, 13.1), (5.2, 20.0), (6.4, 19.0)]
SRF_VLINES = [(3.0, 13.1), (6.0, 11.5), (5.0, 15.5), (5.1, 15.5)]

# stack amplitude axes
PRF_YLIM = [(-0.06, 0.12), (-0.041, 0.139), (-0.101, 0.150), (-0.060, 0.080)]
PRF_YTICKS = [[-0.06, 0, 0.06, 0.12], [0, 0.05, 0.10], [-0.08, 0, 0.08], [-0.05, 0, 0.05]]
PRF_YDEC = [2, 2, 2, 2]
SRF_YLIM = [(-0.1, 0.2), (-0.051, 0.2), (-0.05, 0.199), (-0.1, 0.149)]
SRF_YTICKS = [[-0.1, 0, 0.1, 0.2], [0, 0.08, 0.16], [0, 0.08, 0.16], [-0.08, 0, 0.08]]
SRF_YDEC = [1, 2, 2, 2]

DATA = {
    "PRF": ([MOSL_PRF_STACK, UDBI_PRF_STACK, NVLJ_PRF_STACK, CACV_PRF_STACK],
            [MOSL_PRF_TRACES, UDBI_PRF_TRACES, NVLJ_PRF_TRACES, CACV_PRF_TRACES],
            [MOSL_PRF_BAZ, UDBI_PRF_BAZ, NVLJ_PRF_BAZ, CACV_PRF_BAZ],
            PRF_VLINES, PRF_YLIM, PRF_YTICKS, PRF_YDEC),
    "SRF": ([MOSL_SRF_STACK, UDBI_SRF_STACK, NVLJ_SRF_STACK, CACV_SRF_STACK],
            [MOSL_SRF_TRACES, UDBI_SRF_TRACES, NVLJ_SRF_TRACES, CACV_SRF_TRACES],
            [MOSL_SRF_BAZ, UDBI_SRF_BAZ, NVLJ_SRF_BAZ, CACV_SRF_BAZ],
            SRF_VLINES, SRF_YLIM, SRF_YTICKS, SRF_YDEC),
}

# ---------------------------------------------------------------- layout (px)
COL_L = [174.5, 866.5, 1541.2, 2223.3]
COL_R = [680.6, 1373.5, 2048.6, 2730.6]
BAZ_L = [690.8, 1383.0, 2058.4, 2740.0]
BAZ_R = [766.3, 1459.2, 2134.3, 2816.3]
STACK_TB = {"PRF": [(155.7, 439.7), (153, 405), (154.6, 431.3), (153, 411)],
            "SRF": [(1041.5, 1340), (1039.4, 1316), (1038, 1289), (1044, 1357.7)]}
TRACE_TB = {"PRF": [(452.8, 920.8), (418, 928), (446, 923), (425, 928)],
            "SRF": [(1355, 1803), (1331, 1807), (1303, 1814), (1373.5, 1797)]}
# the bottom of these SRF panels falls off the page, tick labels included
SRF_XLABELS_SHOWN = [False, False, False, True]
TITLE_X = [454, 1148, 1822, 2502]
ROW_Y = {"PRF": 560, "SRF": 1442}
TMAX = {"PRF": 100, "SRF": 50}
SIGMA = {"PRF": 1.35, "SRF": 1.8}
XSTEP = {"PRF": (20, 5), "SRF": (10, 2)}
RIDGE = 0.05

plt.rcParams.update({
    "font.family": "DejaVu Sans",
    "font.stretch": "condensed",
    "xtick.direction": "in", "ytick.direction": "in",
    "xtick.top": True, "ytick.right": True,
    "xtick.major.size": 4, "ytick.major.size": 4,
    "xtick.minor.size": 2, "ytick.minor.size": 2,
    "xtick.labelsize": 10.5, "ytick.labelsize": 10.5,
    "axes.linewidth": 1.0,
})


def rect(l, t, r, b):
    return [l / W, 1 - b / H, (r - l) / W, (b - t) / H]


def wave(t, pulses, sigma):
    """Gaussian pulses whose sum passes through the read (time, amp) points."""
    t0 = np.array([p[0] for p in pulses], float)
    a = np.array([p[1] for p in pulses], float)
    s = np.array([p[2] if len(p) > 2 else sigma for p in pulses], float)
    G = np.exp(-0.5 * ((t0[:, None] - t0[None, :]) / s[None, :]) ** 2)
    w = np.linalg.solve(G + RIDGE * np.eye(len(t0)), a)
    return (w * np.exp(-0.5 * ((t[:, None] - t0[None, :]) / s[None, :]) ** 2)).sum(1)


def wiggle(ax, t, y, base, z):
    ax.fill_between(t, y + base, base, where=y > 0, color="b", lw=0, interpolate=True, zorder=z)
    ax.fill_between(t, y + base, base, where=y < 0, color="r", lw=0, interpolate=True, zorder=z)
    ax.plot(t, y + base, color="k", lw=1.0, zorder=z + 0.1)


def draw_panel(fig, kind, col):
    stacks, traces, bazs, vlines, ylims, yticks, ydecs = DATA[kind]
    stack, trs, baz = stacks[col], traces[col], bazs[col]
    tmax, sigma = TMAX[kind], SIGMA[kind]
    major, minor = XSTEP[kind]
    t = np.linspace(-5, tmax, 2201)
    st, sb = STACK_TB[kind][col]
    tt, tb = TRACE_TB[kind][col]
    n = len(trs)

    ax1 = fig.add_axes(rect(COL_L[col], st, COL_R[col], sb))
    wiggle(ax1, t, wave(t, stack, sigma), 0, 2)
    ax1.set_xlim(-5, tmax)
    ax1.set_ylim(*ylims[col])
    ax1.yaxis.set_major_locator(FixedLocator(yticks[col]))
    ax1.yaxis.set_major_formatter(FormatStrFormatter("%%.%df" % ydecs[col]))
    ax1.xaxis.set_major_locator(MultipleLocator(major))
    ax1.xaxis.set_minor_locator(MultipleLocator(minor))
    ax1.tick_params(labelbottom=False)

    ax2 = fig.add_axes(rect(COL_L[col], tt, COL_R[col], tb))
    for i, p in enumerate(trs):
        wiggle(ax2, t, wave(t, p, sigma), n - i, 2 + i * 0.2)
    ax2.set_xlim(-5, tmax)
    ax2.set_ylim(-0.5, n + 1.5)
    ax2.xaxis.set_major_locator(MultipleLocator(major))
    ax2.xaxis.set_minor_locator(MultipleLocator(minor))
    ax2.yaxis.set_major_locator(MultipleLocator(5))
    ax2.yaxis.set_major_formatter(NullFormatter())
    if kind == "PRF" or SRF_XLABELS_SHOWN[col]:
        ax2.set_xlabel("time (s)", fontsize=10.5, labelpad=5)
    else:
        ax2.tick_params(labelbottom=False)

    for ax in (ax1, ax2):
        for tv, c in zip(vlines[col], ("b", "r")):
            ax.axvline(tv, color=c, ls="--", lw=1.3, alpha=0.7, zorder=50)

    ax3 = fig.add_axes(rect(BAZ_L[col], tt, BAZ_R[col], tb))
    ax3.plot(baz, n - np.arange(n), "o", color="b", mec="b", ms=3)
    ax3.set_xlim(0, 360)
    ax3.set_ylim(-0.5, n + 1.5)
    ax3.xaxis.set_major_locator(FixedLocator([0, 180, 360]))
    ax3.xaxis.set_minor_locator(MultipleLocator(20))
    ax3.yaxis.set_major_locator(MultipleLocator(5))
    ax3.yaxis.set_major_formatter(NullFormatter())
    ax3.tick_params(axis="x", labeltop=True, labelbottom=False, labelsize=10)
    ax3.annotate("baz ($^\\circ$)", xy=(0.5, 1), xycoords="axes fraction",
                 xytext=(0, 17), textcoords="offset points",
                 ha="center", va="bottom", color="b", fontsize=10)

    label = "%d traces  CR.%s..%s" % (n, STATIONS[col], CHANNEL[kind])
    fig.text((BAZ_R[col] + 8) / W, 1 - (st - 7) / H, label, ha="right", va="center",
             fontsize=11.5, zorder=100,
             bbox=dict(boxstyle="round,pad=0.15", fc="w", ec="none", alpha=0.85))


def main():
    fig = plt.figure(figsize=(W / DPI, H / DPI), dpi=DPI, facecolor="w")
    for kind in KINDS:
        for col in range(len(STATIONS)):
            draw_panel(fig, kind, col)
    for col, name in enumerate(STATIONS):
        fig.text(TITLE_X[col] / W, 1 - 77 / H, name, color="red", fontsize=48,
                 fontweight="bold", ha="center", va="center")
    for kind in KINDS:
        fig.text(82.7 / W, 1 - ROW_Y[kind] / H, kind, color="red", fontsize=48,
                 fontweight="bold", fontstretch="normal",
                 ha="center", va="center", rotation=90)
    fig.savefig("out.png", dpi=DPI, facecolor="w")


if __name__ == "__main__":
    main()
